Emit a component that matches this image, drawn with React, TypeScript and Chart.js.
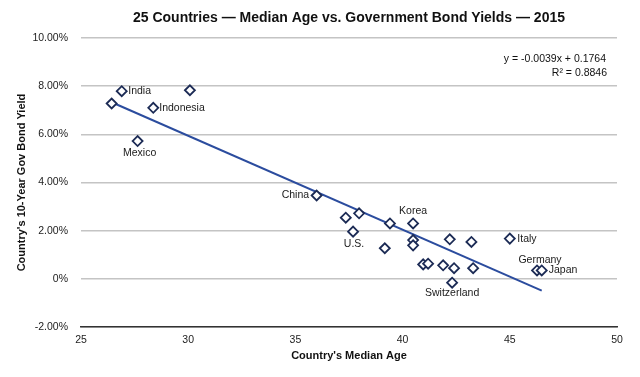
import React, { useEffect, useRef } from 'react';
import { Chart, registerables } from 'chart.js';

Chart.register(...registerables);

const chartTitle = '25 Countries \u2014 Median Age vs. Government Bond Yields \u2014 2015';
const xAxisTitle = "Country's Median Age";
const yAxisTitle = "Country's 10-Year Gov Bond Yield";

const medianAge = [26.43, 26.9, 30.08, 28.37, 27.64, 35.99, 37.35, 37.97, 37.69, 39.41, 40.49, 39.17, 40.49, 40.49, 40.96, 41.19, 41.89, 42.4, 42.2, 43.21, 42.31, 43.29, 45.0, 46.27, 46.49];
const bondYield = [7.28, 7.79, 7.83, 7.1, 5.72, 3.46, 2.54, 2.72, 1.96, 2.3, 2.3, 1.27, 1.61, 1.39, 0.6, 0.63, 0.56, 0.44, 1.64, 1.53, -0.16, 0.44, 1.67, 0.35, 0.35];
const countryNames = ['', 'India', '', 'Indonesia', 'Mexico', 'China', '', '', 'U.S.', '', 'Korea', '', '', '', '', '', '', '', '', '', 'Switzerland', '', 'Italy', 'Germany', 'Japan'];

const trendSlope = -0.0039;
const trendIntercept = 0.1764;
const rSquared = 0.8846;

const xTickValues = [25, 30, 35, 40, 45, 50];
const yTickValues = [-2, 0, 2, 4, 6, 8, 10];

const FONT = "'Liberation Sans', Arial, Helvetica, sans-serif";

// label placement (style only)
const labelPlacement: Record<string, { dx: number; dy: number; align: CanvasTextAlign }> = {
  India: { dx: 6.5, dy: 0, align: 'left' },
  Indonesia: { dx: 6, dy: 0, align: 'left' },
  Mexico: { dx: 2, dy: 12.5, align: 'center' },
  China: { dx: -7.5, dy: 0, align: 'right' },
  Korea: { dx: 0, dy: -12, align: 'center' },
  'U.S.': { dx: 1, dy: 12, align: 'center' },
  Italy: { dx: 7.5, dy: 0, align: 'left' },
  Germany: { dx: 3, dy: -10, align: 'center' },
  Japan: { dx: 7, dy: 0, align: 'left' },
  Switzerland: { dx: 0, dy: 10.5, align: 'center' },
};

const overlayPlugin = {
  id: 'overlay',
  afterDatasetsDraw(chart: any) {
    const ctx = chart.ctx as CanvasRenderingContext2D;
    const meta = chart.getDatasetMeta(1);
    ctx.save();
    ctx.fillStyle = '#1a1a1a';
    ctx.font = `10.5px ${FONT}`;
    ctx.textBaseline = 'middle';
    countryNames.forEach((name, i) => {
      if (!name) return;
      const el = meta.data[i];
      const p = labelPlacement[name];
      ctx.textAlign = p.align;
      ctx.fillText(name, el.x + p.dx, el.y + p.dy);
    });
    ctx.restore();
  },
  afterDraw(chart: any) {
    const ctx = chart.ctx as CanvasRenderingContext2D;
    const area = chart.chartArea;
    ctx.save();
    ctx.fillStyle = '#111';
    ctx.textBaseline = 'middle';
    ctx.textAlign = 'center';
    ctx.font = `bold 14px ${FONT}`;
    ctx.fillText(chartTitle, (area.left + area.right) / 2, 18);
    ctx.font = `10.5px ${FONT}`;
    ctx.textAlign = 'right';
    const sign = trendIntercept >= 0 ? '+' : '-';
    ctx.fillText(`y = ${trendSlope.toFixed(4)}x ${sign} ${Math.abs(trendIntercept).toFixed(4)}`, area.right - 11, 59);
    ctx.fillText(`R\u00B2 = ${rSquared.toFixed(4)}`, area.right - 10, 73);
    ctx.restore();
  },
};

export default function App() {
  const ref = useRef<HTMLCanvasElement>(null);
  useEffect(() => {
    if (!ref.current) return;
    const xMin = Math.min(...medianAge);
    const xMax = Math.max(...medianAge);
    const trendData = [xMin, xMax].map((x) => ({ x, y: (trendSlope * x + trendIntercept) * 100 }));
    const chart = new Chart(ref.current, {
      type: 'scatter',
      data: {
        datasets: [
          {
            data: trendData,
            showLine: true,
            borderColor: '#2b4c9e',
            borderWidth: 2,
            pointRadius: 0,
            fill: false,
            order: 2,
          } as any,
          {
            data: medianAge.map((x, i) => ({ x, y: bondYield[i] })),
            pointStyle: 'rectRot',
            pointRadius: 5,
            borderColor: '#1c2b55',
            backgroundColor: '#ffffff',
            borderWidth: 1.8,
            order: 1,
          } as any,
        ],
      },
      options: {
        responsive: false,
        animation: false,
        devicePixelRatio: 1,
        layout: { padding: { left: 0, right: 23, top: 38, bottom: 0 } },
        plugins: { legend: { display: false }, tooltip: { enabled: false }, title: { display: false } },
        scales: {
          x: {
            type: 'linear',
            min: 25,
            max: 50,
            afterBuildTicks: (s: any) => { s.ticks = xTickValues.map((v) => ({ value: v })); },
            afterFit: (s: any) => { s.height = 50; },
            ticks: { color: '#222', font: { family: FONT, size: 10.5 }, padding: 7 },
            grid: { display: false, drawTicks: false },
            border: { display: true, color: '#333', width: 1.5 },
            title: { display: true, text: xAxisTitle, color: '#111', font: { family: FONT, size: 11, weight: 'bold' }, padding: { top: 4, bottom: 14 } },
          },
          y: {
            type: 'linear',
            min: -2,
            max: 10,
            afterBuildTicks: (s: any) => { s.ticks = yTickValues.map((v) => ({ value: v })); },
            afterFit: (s: any) => { s.width = 81; },
            ticks: {
              color: '#222',
              font: { family: FONT, size: 10.5 },
              padding: 13,
              callback: (v: any) => (v === 0 ? '0%' : `${Number(v).toFixed(2)}%`),
            },
            grid: { color: '#c4c4c4', lineWidth: 1.5, drawTicks: false },
            border: { display: false },
            title: { display: true, text: yAxisTitle, color: '#111', font: { family: FONT, size: 11, weight: 'bold' }, padding: { top: 15, bottom: 4 } },
          },
        },
      } as any,
      plugins: [overlayPlugin],
    });
    return () => chart.destroy();
  }, []);
  return (
    <div style={{ position: 'absolute', left: 0, top: 0, width: 640, height: 377, background: '#fff' }}>
      <canvas ref={ref} width={640} height={377} style={{ display: 'block' }} />
    </div>
  );
}
